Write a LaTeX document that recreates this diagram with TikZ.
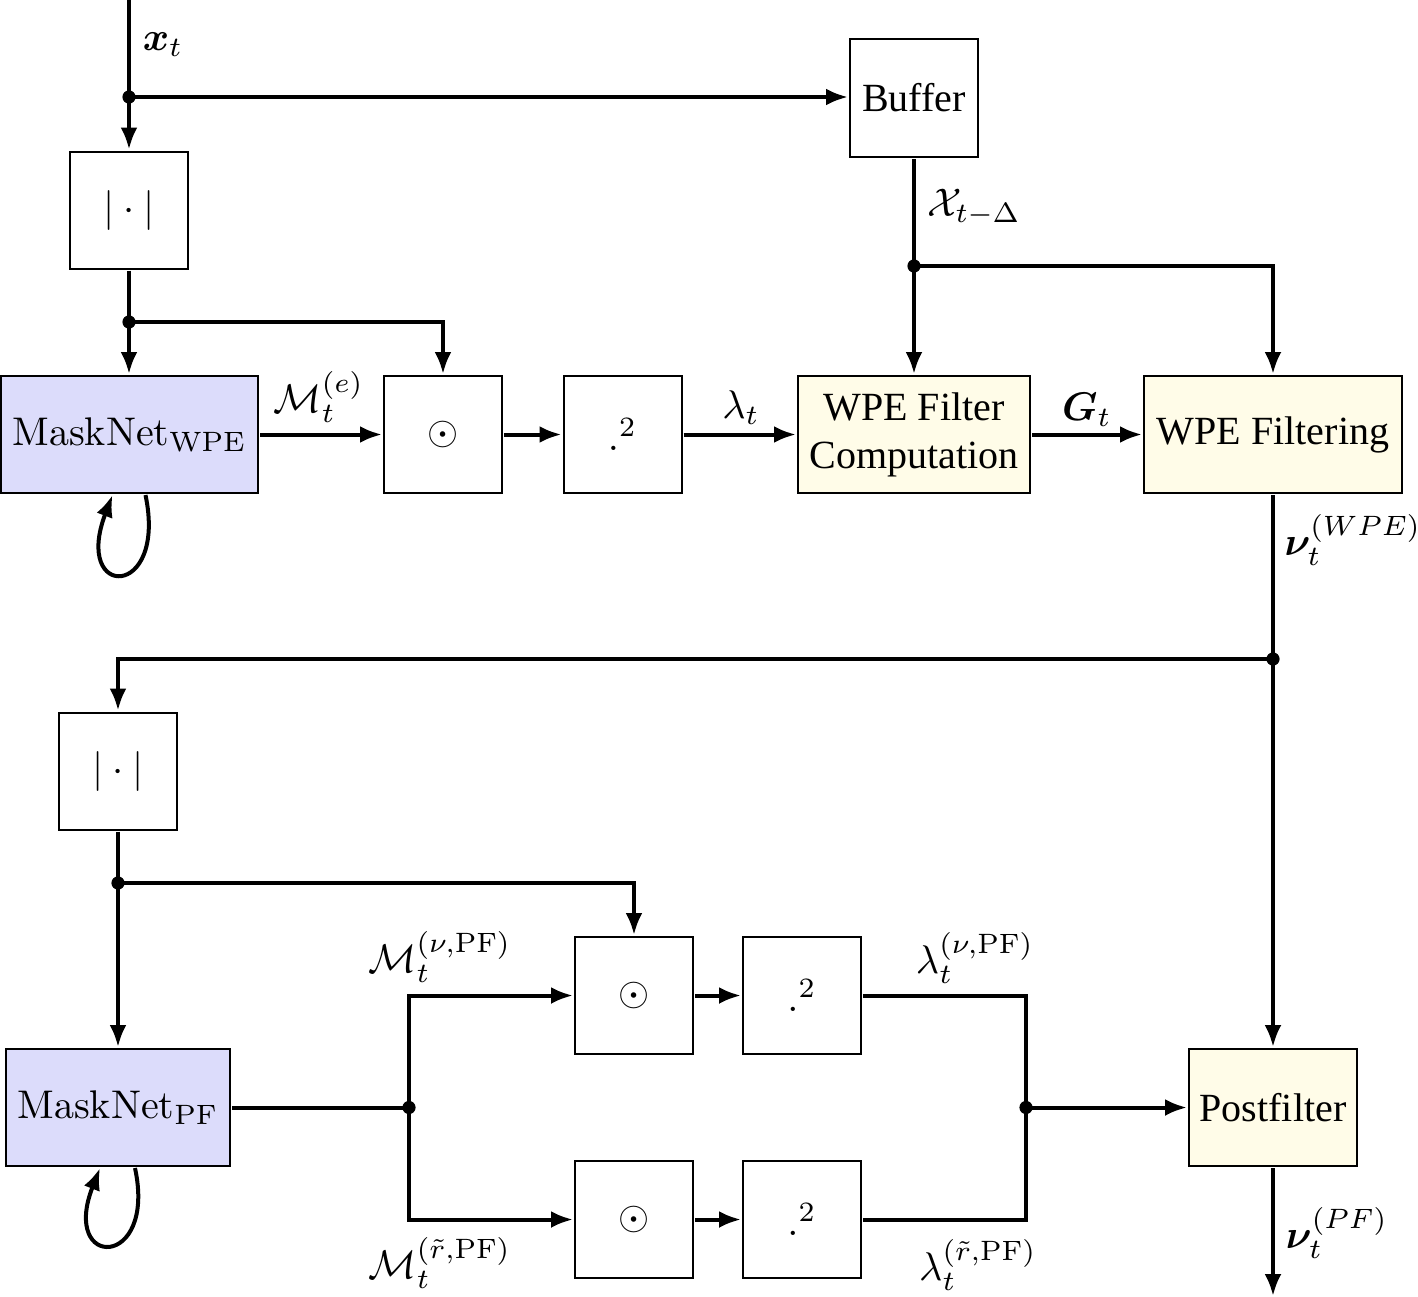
\documentclass[tikz,border=0pt]{standalone}
\usepackage{amsmath}
\usepackage{bm}
\usepackage{fontspec}
\newfontfamily\tms{Liberation Serif}
\usetikzlibrary{arrows.meta,calc}
\definecolor{maskfill}{RGB}{220,220,251}
\definecolor{wpefill}{RGB}{255,252,232}
\tikzset{
  blk/.style={draw, line width=1pt, inner sep=0pt, align=center, fill=white},
  sq/.style={blk, minimum width=29.5pt, minimum height=29.25pt},
  mask/.style={blk, fill=maskfill, minimum height=29.25pt},
  wpe/.style={blk, fill=wpefill, minimum height=29.25pt},
  wire/.style={line width=2pt},
  arr/.style={wire, -{Latex[length=11pt,width=8.5pt]}},
  dot/.style={circle, fill=black, inner sep=0pt, minimum size=3.3pt},
  lbl/.style={inner sep=0pt}
}
\begin{document}
\begin{tikzpicture}[x=0.25pt, y=-0.25pt, scale=2, every node/.append style={transform shape}, font=\fontsize{10}{12}\selectfont]
\useasboundingbox (0,0) rectangle (1418,1296);
% blocks
\node[sq] (abs1) at (129,210) {$|\cdot|$};
\node[blk, minimum width=32pt, minimum height=29.5pt] (buf) at (914,98) {\tms Buffer};
\node[mask, minimum width=64.25pt] (mw) at (129.5,434.5) {MaskNet$_{\mathrm{WPE}}$};
\node[sq] (od1) at (443,434.5) {$\odot$};
\node[sq] (sq1) at (622.5,434.5) {$.^{2}$};
\node[wpe, minimum width=58pt] (wfc) at (914,434.5) {\tms WPE Filter\\\tms Computation};
\node[wpe, minimum width=64.5pt] (wf) at (1273,434.5) {\tms WPE Filtering};
\node[sq] (abs2) at (118,771) {$|\cdot|$};
\node[mask, minimum width=56pt] (mp) at (118,1107.5) {MaskNet$_{\mathrm{PF}}$};
\node[sq] (od2) at (634,995.5) {$\odot$};
\node[sq] (sq2) at (802,995.5) {$.^{2}$};
\node[sq] (od3) at (634,1219.5) {$\odot$};
\node[sq] (sq3) at (802,1219.5) {$.^{2}$};
\node[wpe, minimum width=42pt] (pf) at (1273,1107.5) {\tms Postfilter};
% junctions
\coordinate (in) at (129,0);
\node[dot] (j1) at (129,97) {};
\node[dot] (j2) at (129,322) {};
\node[dot] (j3) at (914,266) {};
\node[dot] (j4) at (1273,659) {};
\node[dot] (j5) at (118,883) {};
\node[dot] (j6) at (409,1107.5) {};
\node[dot] (j7) at (1026,1107.5) {};
\coordinate (out) at (1273,1296);
% connectors
\draw[wire] (in) -- (j1.center);
\draw[arr] (j1.center) -- (abs1.north);
\draw[arr] (j1.center) -- (j1 -| buf.west);
\draw[wire] (abs1.south) -- (j2.center);
\draw[arr] (j2.center) -- (j2 |- mw.north);
\draw[arr] (j2.center) -| (od1.north);
\draw[arr] (mw.east) -- (od1.west);
\draw[arr] (od1.east) -- (sq1.west);
\draw[arr] (sq1.east) -- (wfc.west);
\draw[arr] (wfc.east) -- (wf.west);
\draw[wire] (buf.south) -- (j3.center);
\draw[arr] (j3.center) -- (wfc.north);
\draw[arr] (j3.center) -| (wf.north);
\draw[wire] (wf.south) -- (j4.center);
\draw[arr] (j4.center) -- (pf.north);
\draw[arr] (j4.center) -| (abs2.north);
\draw[wire] (abs2.south) -- (j5.center);
\draw[arr] (j5.center) -- (mp.north);
\draw[arr] (j5.center) -| (od2.north);
\draw[wire] (mp.east) -- (j6.center);
\draw[arr] (j6.center) |- (od2.west);
\draw[arr] (j6.center) |- (od3.west);
\draw[arr] (od2.east) -- (sq2.west);
\draw[arr] (od3.east) -- (sq3.west);
\draw[wire] (sq2.east) -| (j7.center);
\draw[wire] (sq3.east) -| (j7.center);
\draw[arr] (j7.center) -- (pf.west);
\draw[arr] (pf.south) -- (out);
% self loops
\draw[arr] ($(mw.south)+(16,0)$) .. controls +(22,105) and +(-40,105) .. ($(mw.south)+(-17,0)$);
\draw[arr] ($(mp.south)+(17,0)$) .. controls +(22,102) and +(-40,102) .. ($(mp.south)+(-18,0)$);
% labels
\node[lbl] (lxt) at (163,45) {$\boldsymbol{x}_t$};
\node[lbl] (lX) at (974,207) {$\mathcal{X}_{t-\Delta}$};
\node[lbl] (lMe) at (319,397) {$\mathcal{M}_t^{(e)}$};
\node[lbl] (llam) at (741,408) {$\lambda_t$};
\node[lbl] (lG) at (1087,410) {$\boldsymbol{G}_t$};
\node[lbl] (lnw) at (1353,540) {$\boldsymbol{\nu}_t^{(WPE)}$};
\node[lbl] (lMn) at (440,957) {$\mathcal{M}_t^{(\nu,\mathrm{PF})}$};
\node[lbl] (lMr) at (440,1263) {$\mathcal{M}_t^{(\tilde{r},\mathrm{PF})}$};
\node[lbl] (lln) at (975,958) {$\lambda_t^{(\nu,\mathrm{PF})}$};
\node[lbl] (llr) at (978,1265) {$\lambda_t^{(\tilde{r},\mathrm{PF})}$};
\node[lbl] (lnp) at (1337,1233) {$\boldsymbol{\nu}_t^{(PF)}$};
\end{tikzpicture}
\end{document}
